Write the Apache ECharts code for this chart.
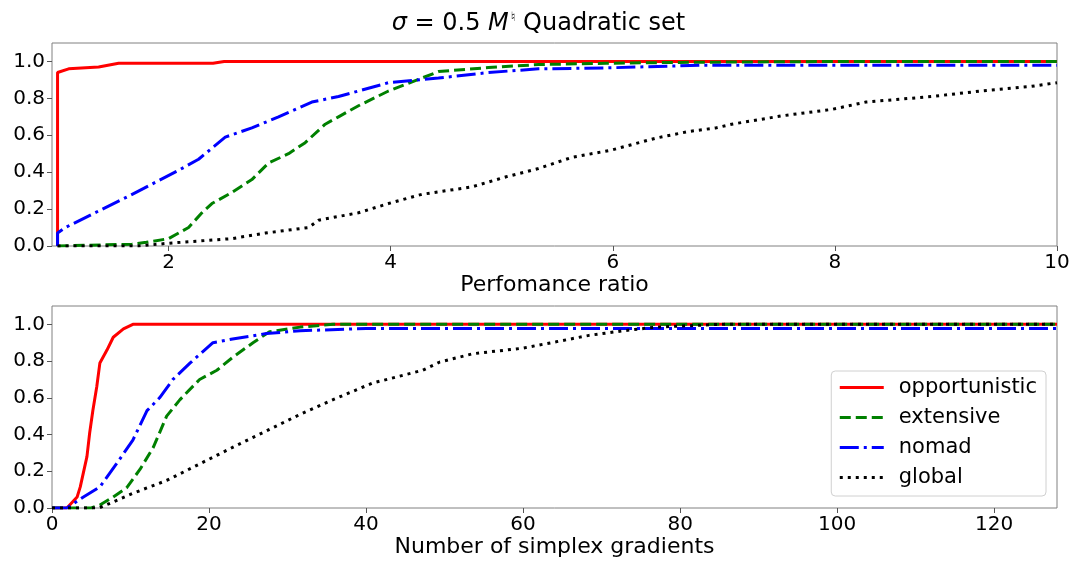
<!DOCTYPE html>
<html>
<head>
<meta charset="utf-8">
<script src="https://cdn.jsdelivr.net/npm/echarts@6/dist/echarts.min.js"></script>
<style>
  html, body { margin: 0; padding: 0; background: #fff; }
  #chart { width: 1077px; height: 561px; }
</style>
</head>
<body>
<div id="chart"></div>
<script>
// top panel: performance ratio
const opp1X = [1, 1, 1.1, 1.37, 1.55, 2.4, 2.5, 10];
const opp1Y = [0, 0.94, 0.96, 0.97, 0.99, 0.99, 1.0, 1.0];
const ext1X = [1, 1, 1.67, 1.8, 2.0, 2.18, 2.3, 2.39, 2.57, 2.75, 2.9, 3.08, 3.23, 3.41, 3.53, 3.71, 3.98, 4.28, 4.43, 4.88, 5.33, 5.94, 6.6, 8, 10];
const ext1Y = [0, 0.01, 0.01, 0.02, 0.04, 0.10, 0.18, 0.23, 0.29, 0.36, 0.45, 0.50, 0.56, 0.66, 0.70, 0.76, 0.84, 0.91, 0.945, 0.967, 0.983, 0.99, 0.995, 1.0, 1.0];
const nom1X = [1, 1, 1.07, 1.37, 1.64, 2.09, 2.27, 2.51, 2.75, 2.99, 3.29, 3.53, 3.71, 3.98, 4.43, 4.88, 5.33, 5.94, 6.53, 6.8, 10];
const nom1Y = [0, 0.07, 0.10, 0.19, 0.27, 0.41, 0.47, 0.59, 0.64, 0.70, 0.78, 0.81, 0.84, 0.885, 0.91, 0.94, 0.96, 0.965, 0.975, 0.98, 0.98];
const glo1X = [1, 1.73, 2.0, 2.57, 2.87, 3.26, 3.35, 3.53, 3.71, 3.98, 4.28, 4.73, 5.04, 5.33, 5.63, 5.99, 6.39, 6.68, 6.93, 7.07, 7.52, 7.97, 8.28, 8.87, 9.32, 9.77, 10];
const glo1Y = [0, 0, 0.015, 0.04, 0.07, 0.10, 0.14, 0.16, 0.18, 0.23, 0.28, 0.32, 0.375, 0.42, 0.48, 0.52, 0.585, 0.62, 0.64, 0.66, 0.705, 0.74, 0.78, 0.81, 0.84, 0.865, 0.885];

// bottom panel: number of simplex gradients
const opp2X = [0, 1.9, 3.2, 3.6, 4.45, 4.8, 5.2, 5.7, 6.1, 7.0, 7.8, 9.1, 10.3, 128];
const opp2Y = [0, 0, 0.06, 0.115, 0.28, 0.41, 0.53, 0.66, 0.79, 0.86, 0.93, 0.975, 1.0, 1.0];
const ext2X = [0, 5, 6.1, 7.8, 9.5, 11.2, 12.9, 14.6, 16.3, 18.8, 21, 23, 25.6, 27.7, 31.6, 35.8, 128];
const ext2Y = [0, 0, 0.016, 0.06, 0.11, 0.21, 0.33, 0.50, 0.59, 0.70, 0.75, 0.82, 0.90, 0.96, 0.985, 1.0, 1.0];
const nom2X = [0, 1.9, 4.0, 6.1, 8.2, 10.3, 12.1, 13.7, 15.4, 17.6, 20.5, 23.0, 27.3, 31.6, 40, 128];
const nom2Y = [0, 0, 0.06, 0.115, 0.24, 0.37, 0.53, 0.60, 0.70, 0.79, 0.90, 0.92, 0.95, 0.965, 0.978, 0.978];
const glo2X = [0, 6, 10.3, 14.6, 18.8, 23, 27.3, 31.6, 35.8, 40.8, 47.2, 49.4, 53.6, 59.9, 64.2, 68.4, 72.7, 77, 85, 128];
const glo2Y = [0, 0, 0.08, 0.15, 0.24, 0.33, 0.42, 0.51, 0.59, 0.68, 0.75, 0.795, 0.84, 0.87, 0.905, 0.94, 0.965, 0.985, 1.0, 1.0];

const names = ["opportunistic", "extensive", "nomad", "global"];
const yTicks = [0, 0.2, 0.4, 0.6, 0.8, 1.0];
const xTicks1 = [2, 4, 6, 8, 10];
const xTicks2 = [0, 20, 40, 60, 80, 100, 120];

const font = "DejaVu Sans";
const colors = ["#ff0000", "#008000", "#0000ff", "#000000"];
const dashes = ["solid", [11, 5], [19, 5, 3, 5], [3, 5]];

const zip = (xs, ys) => xs.map((x, i) => [x, ys[i]]);

const mkSeries = (idx, data, k) => ({
  name: names[k],
  type: "line",
  xAxisIndex: idx,
  yAxisIndex: idx,
  data: data,
  symbol: "none",
  animation: false,
  z: 2 + k,
  lineStyle: { width: 3, color: colors[k], type: dashes[k] },
  itemStyle: { color: colors[k] },
});

const xAxisBase = (idx, min, max, ticks, name) => ({
  type: "value",
  gridIndex: idx,
  min: min,
  max: max,
  name: name,
  nameLocation: "middle",
  nameGap: 28,
  nameTextStyle: { fontFamily: font, fontSize: 22, color: "#000" },
  axisLine: { show: false },
  splitLine: { show: false },
  axisTick: { show: true, length: 5, customValues: ticks, lineStyle: { color: "#555" } },
  axisLabel: { customValues: ticks, margin: 7, fontFamily: font, fontSize: 20, color: "#000" },
});

const yAxisBase = (idx) => ({
  type: "value",
  gridIndex: idx,
  min: 0,
  max: 1.1,
  axisLine: { show: false },
  splitLine: { show: false },
  axisTick: { show: true, length: 5, customValues: yTicks, lineStyle: { color: "#555" } },
  axisLabel: {
    customValues: yTicks,
    margin: 7,
    fontFamily: font,
    fontSize: 20,
    color: "#000",
    formatter: (v) => v.toFixed(1),
  },
});

const chart = echarts.init(document.getElementById("chart"));

const option = {
  backgroundColor: "#fff",
  title: {
    text: "{i|σ}{n| = 0.5 }{i|M}{s|♮}{n| Quadratic set}",
    left: "center",
    top: 6,
    textStyle: {
      rich: {
        n: { fontFamily: font, fontWeight: "normal", fontSize: 24, color: "#000" },
        i: { fontFamily: font, fontWeight: "normal", fontStyle: "italic", fontSize: 24, color: "#000" },
        s: { fontFamily: font, fontWeight: "normal", fontSize: 13, color: "#000", verticalAlign: "top", padding: [0, 0, 12, 2] },
      },
    },
  },
  grid: [
    { left: 52, right: 20, top: 43, height: 203, show: true, borderColor: "#808080", borderWidth: 1 },
    { left: 52, right: 20, top: 306, height: 202, show: true, borderColor: "#808080", borderWidth: 1 },
  ],
  legend: {
    data: names,
    orient: "vertical",
    right: 31,
    top: 371,
    padding: [6, 9, 8, 7],
    itemGap: 9,
    itemWidth: 44,
    itemHeight: 14,
    itemStyle: { opacity: 0 },
    lineStyle: { width: 3 },
    backgroundColor: "rgba(255,255,255,0.8)",
    borderColor: "#d0d0d0",
    borderWidth: 1,
    borderRadius: 4,
    textStyle: { fontFamily: font, fontSize: 21, color: "#000", lineHeight: 21, padding: [0, 0, 0, 10] },
  },
  xAxis: [
    xAxisBase(0, 0.95, 10, xTicks1, "Perfomance ratio"),
    xAxisBase(1, 0, 128, xTicks2, "Number of simplex gradients"),
  ],
  yAxis: [yAxisBase(0), yAxisBase(1)],
  series: [
    mkSeries(0, zip(opp1X, opp1Y), 0),
    mkSeries(0, zip(ext1X, ext1Y), 1),
    mkSeries(0, zip(nom1X, nom1Y), 2),
    mkSeries(0, zip(glo1X, glo1Y), 3),
    mkSeries(1, zip(opp2X, opp2Y), 0),
    mkSeries(1, zip(ext2X, ext2Y), 1),
    mkSeries(1, zip(nom2X, nom2Y), 2),
    mkSeries(1, zip(glo2X, glo2Y), 3),
  ],
};

chart.setOption(option);

window.addEventListener("resize", () => chart.resize());
</script>
</body>
</html>
